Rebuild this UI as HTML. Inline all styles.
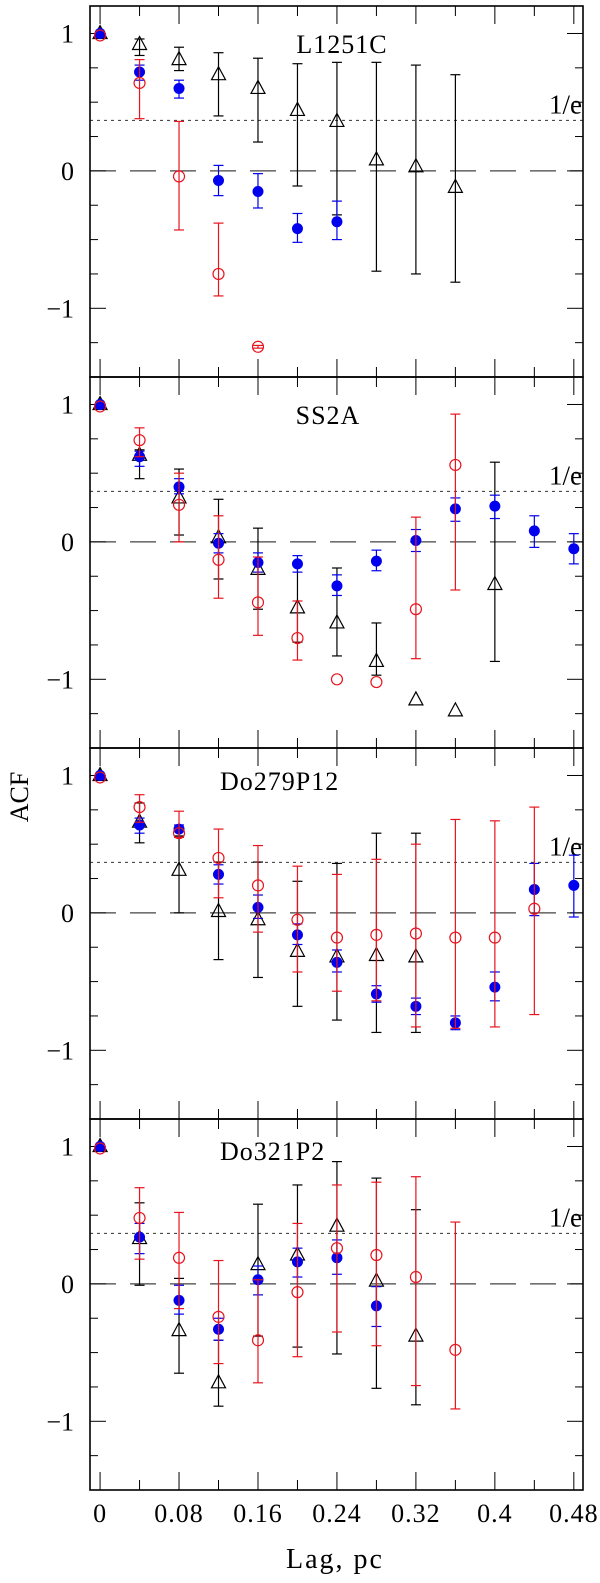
<!DOCTYPE html>
<html><head><meta charset="utf-8"><style>
html,body{margin:0;padding:0;background:#fff;}
svg{display:block;font-family:"Liberation Serif",serif;}
</style></head><body>
<svg id="chart" width="600" height="1583" viewBox="0 0 600 1583" xmlns="http://www.w3.org/2000/svg"></svg>
<script>
// x categories (lag, pc)
const lags = [0,0.04,0.08,0.12,0.16,0.20,0.24,0.28,0.32,0.36,0.40,0.44,0.48];
const panelNames = ["L1251C","SS2A","Do279P12","Do321P2"];
const xTickLabels = ["0","0.08","0.16","0.24","0.32","0.4","0.48"];
const xTickValues = [0,0.08,0.16,0.24,0.32,0.40,0.48];
const yTickLabels = ["1","0","\u22121"];
const yTickValues = [1,0,-1];
// each series: [value, errHigh, errLow] per lag index (null = none)
const p1Black = [[1,1,1],[0.92,0.96,0.84],[0.81,0.90,0.73],[0.70,0.86,0.40],[0.60,0.82,0.21],[0.44,0.78,-0.11],[0.36,0.79,-0.32],[0.08,0.79,-0.73],[0.03,0.77,-0.75],[-0.12,0.70,-0.81]];
const p1Blue = [[1,1,1],[0.72,0.77,0.66],[0.60,0.66,0.53],[-0.07,0.04,-0.18],[-0.15,-0.02,-0.27],[-0.42,-0.31,-0.52],[-0.37,-0.22,-0.50]];
const p1Red = [[1,1,1],[0.64,0.81,0.38],[-0.04,0.36,-0.43],[-0.75,-0.38,-0.91],[-1.28,-1.27,-1.29]];
const p2Black = [[1,1,1],[0.63,0.67,0.46],[0.32,0.53,0.05],[0.03,0.31,-0.27],[-0.20,0.10,-0.49],[-0.48,-0.15,-0.73],[-0.59,-0.19,-0.83],[-0.87,-0.59,-0.97],[-1.15,null,null],[-1.23,null,null],[-0.31,0.58,-0.87]];
const p2Blue = [[1,1,1],[0.62,0.66,0.55],[0.40,0.46,0.35],[-0.01,0.06,-0.08],[-0.15,-0.08,-0.22],[-0.16,-0.10,-0.22],[-0.32,-0.24,-0.39],[-0.14,-0.06,-0.21],[0.01,0.09,-0.07],[0.24,0.32,0.15],[0.26,0.34,0.17],[0.08,0.19,-0.04],[-0.05,0.06,-0.16]];
const p2Red = [[1,1,1],[0.74,0.83,0.62],[0.27,0.50,0.0],[-0.13,0.19,-0.41],[-0.44,-0.11,-0.68],[-0.70,-0.43,-0.86],[-1.00,null,null],[-1.02,null,null],[-0.49,0.18,-0.85],[0.56,0.93,-0.35]];
const p3Black = [[1,1,1],[0.66,0.80,0.51],[0.31,0.56,0.0],[0.01,0.37,-0.34],[-0.05,0.37,-0.47],[-0.28,0.23,-0.68],[-0.32,0.36,-0.78],[-0.31,0.58,-0.87],[-0.32,0.58,-0.87]];
const p3Blue = [[1,1,1],[0.64,0.69,0.58],[0.61,0.64,0.55],[0.28,0.35,0.21],[0.04,0.13,-0.04],[-0.16,-0.08,-0.23],[-0.36,-0.27,-0.43],[-0.59,-0.53,-0.65],[-0.68,-0.62,-0.74],[-0.80,-0.75,-0.85],[-0.54,-0.43,-0.64],[0.17,0.36,-0.02],[0.20,0.42,-0.03]];
const p3Red = [[1,1,1],[0.77,0.86,0.66],[0.58,0.74,0.55],[0.40,0.61,0.11],[0.20,0.49,-0.14],[-0.05,0.34,-0.43],[-0.18,0.28,-0.57],[-0.16,0.39,-0.64],[-0.15,0.50,-0.83],[-0.18,0.68,-0.84],[-0.18,0.67,-0.83],[0.03,0.77,-0.74]];
const p4Black = [[1,1,1],[0.33,0.59,-0.01],[-0.34,0.04,-0.65],[-0.72,-0.41,-0.89],[0.14,0.58,-0.38],[0.21,0.72,-0.46],[0.42,0.89,-0.51],[0.02,0.77,-0.76],[-0.38,0.54,-0.88]];
const p4Blue = [[1,1,1],[0.34,0.44,0.22],[-0.12,-0.01,-0.22],[-0.33,-0.25,-0.41],[0.03,0.13,-0.08],[0.16,0.26,0.05],[0.19,0.32,0.07],[-0.16,-0.02,-0.31]];
const p4Red = [[1,1,1],[0.48,0.70,0.18],[0.19,0.52,-0.18],[-0.24,0.17,-0.58],[-0.41,0.03,-0.72],[-0.06,0.44,-0.53],[0.26,0.72,-0.35],[0.21,0.74,-0.45],[0.05,0.78,-0.74],[-0.48,0.45,-0.91]];
const panels = [[p1Black,p1Blue,p1Red],[p2Black,p2Blue,p2Red],[p3Black,p3Blue,p3Red],[p4Black,p4Blue,p4Red]];
const invE = 1/Math.E;

const NS="http://www.w3.org/2000/svg";
const svg=document.getElementById('chart');
const L=90,R=583,TOP=6,PH=371,YMAX=1.2,YMIN=-1.5;
const XMIN=-0.0102,XMAX=0.4893;
function X(v){return L+(v-XMIN)/(XMAX-XMIN)*(R-L);}
function Y(p,v){return TOP+p*PH+(YMAX-v)/(YMAX-YMIN)*PH;}
function mk(tag,attrs,parent){const e=document.createElementNS(NS,tag);for(const k in attrs)e.setAttribute(k,attrs[k]);(parent||svg).appendChild(e);return e;}

const colors=["#000","#0000ee","#e8141e"];
const names=["triangle","filled-circle","open-circle"];
const titleX=[342,328,220,220];
const titleAnchor=["middle","middle","start","start"];
const titleDY=[47,47,42,41];

for(let p=0;p<4;p++){
  const g=mk('g',{});
  
  
  const y0=TOP+p*PH, y1=y0+PH;
  const z=mk('line',{x1:L,x2:R,y1:Y(p,0),y2:Y(p,0),stroke:'#444','stroke-width':1.3,'stroke-dasharray':'26,14'},g);
  
  
  const e=mk('line',{x1:L,x2:R,y1:Y(p,invE),y2:Y(p,invE),stroke:'#333','stroke-width':1,'stroke-dasharray':'3,4'},g);
  
  
  const et=mk('text',{x:R-1,y:Y(p,invE)-7,'font-size':27,'text-anchor':'end',fill:'#000'},g);
  et.textContent='1/e';
  
  
  for(let k=0;k<=12;k++){
    const v=k*0.04, len=(k%2===0)?18:10, xx=X(v);
    mk('line',{x1:xx,x2:xx,y1:y1,y2:y1-len,stroke:'#000','stroke-width':1},g);
    mk('line',{x1:xx,x2:xx,y1:y0,y2:y0+len,stroke:'#000','stroke-width':1},g);
  }
  for(let k=-6;k<=4;k++){
    const v=k*0.25, len=(k%4===0)?16:8, yy=Y(p,v);
    mk('line',{x1:L,x2:L+len,y1:yy,y2:yy,stroke:'#000','stroke-width':1},g);
    mk('line',{x1:R,x2:R-len,y1:yy,y2:yy,stroke:'#000','stroke-width':1},g);
  }
  yTickValues.forEach((v,i)=>{
    const t=mk('text',{x:74,y:Y(p,v)+9,'font-size':26,'text-anchor':'end',fill:'#000'},g);
    t.textContent=yTickLabels[i];
    
    
  });
  const title=mk('text',{x:titleX[p],y:y0+titleDY[p],'font-size':26,'text-anchor':titleAnchor[p],fill:'#000','letter-spacing':1},g);
  title.textContent=panelNames[p];
  
  
  for(let s=0;s<3;s++){
    const data=panels[p][s], c=colors[s];
    const sg=mk('g',{},g);
    
    
    data.forEach((d,i)=>{
      const xx=X(lags[i]), yy=Y(p,d[0]);
      if(d[1]!==null && i>0){
        const yh=Y(p,d[1]), yl=Y(p,d[2]);
        mk('line',{x1:xx,x2:xx,y1:yh,y2:yl,stroke:c,'stroke-width':1.2},sg);
        mk('line',{x1:xx-5,x2:xx+5,y1:yh,y2:yh,stroke:c,'stroke-width':1.2},sg);
        mk('line',{x1:xx-5,x2:xx+5,y1:yl,y2:yl,stroke:c,'stroke-width':1.2},sg);
      }
      let m;
      if(s===0){
        const fill=i===0?'#1a10c0':'none';
        m=mk('polygon',{points:`${xx-7},${yy+5} ${xx+7},${yy+5} ${xx},${yy-8}`,fill:fill,stroke:'#000','stroke-width':1.2},sg);
      }else if(s===1){
        m=mk('circle',{cx:xx,cy:yy,r:5.5,fill:c},sg);
      }else{
        m=mk('circle',{cx:xx,cy:yy+(i===0?2:0),r:5.5,fill:'none',stroke:c,'stroke-width':1.2},sg);
      }
      
      
    });
  }
  const fr=mk('rect',{x:L,y:y0,width:R-L,height:PH,fill:'none',stroke:'#000','stroke-width':1.6},g);
  
  
}
xTickValues.forEach((v,i)=>{
  const t=mk('text',{x:X(v),y:1522,'font-size':26,'text-anchor':'middle',fill:'#000','letter-spacing':1});
  t.textContent=xTickLabels[i];
  
  
});
const xt=mk('text',{x:335,y:1568,'font-size':28,'text-anchor':'middle',fill:'#000','letter-spacing':2});
xt.textContent='Lag, pc';


const yt=mk('text',{x:0,y:0,'font-size':26,'text-anchor':'middle',fill:'#000',transform:'translate(28,797) rotate(-90)'});
yt.textContent='ACF';


</script>
</body></html>
